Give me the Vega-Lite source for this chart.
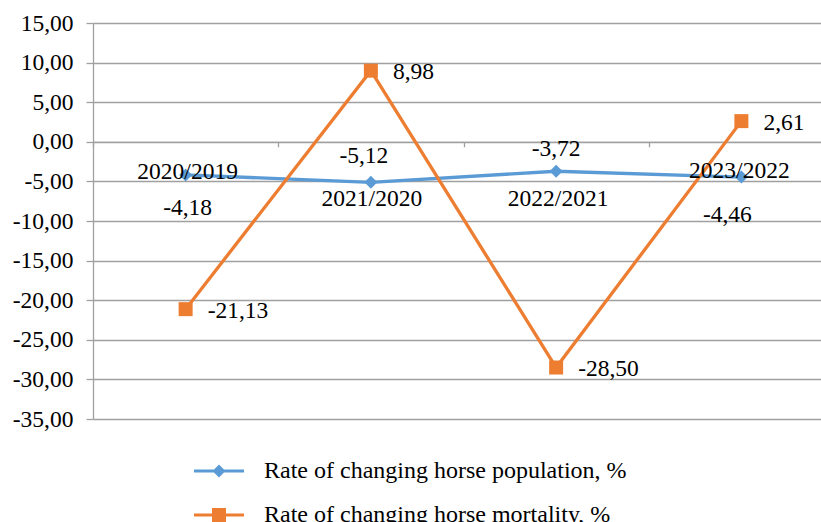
{
  "$schema": "https://vega.github.io/schema/vega-lite/v6.json",
  "width": 728,
  "height": 396,
  "padding": {"left": 93, "top": 23, "right": 0, "bottom": 103},
  "autosize": {"type": "none"},
  "background": "white",
  "config": {"font": "Times New Roman", "view": {"stroke": null}},
  "data": {"values": [
    {"period": "2020/2019", "series": "Rate of changing horse population, %", "value": -4.18},
    {"period": "2021/2020", "series": "Rate of changing horse population, %", "value": -5.12},
    {"period": "2022/2021", "series": "Rate of changing horse population, %", "value": -3.72},
    {"period": "2023/2022", "series": "Rate of changing horse population, %", "value": -4.46},
    {"period": "2020/2019", "series": "Rate of changing horse mortality, %", "value": -21.13},
    {"period": "2021/2020", "series": "Rate of changing horse mortality, %", "value": 8.98},
    {"period": "2022/2021", "series": "Rate of changing horse mortality, %", "value": -28.50},
    {"period": "2023/2022", "series": "Rate of changing horse mortality, %", "value": 2.61}
  ]},
  "transform": [
    {"calculate": "(datum.value < 0 ? '-' : '') + replace(format(abs(datum.value), '.2f'), '.', ',')", "as": "label"}
  ],
  "encoding": {
    "x": {
      "field": "period", "type": "nominal", "sort": null,
      "scale": {"type": "band", "range": [0, 741], "paddingInner": 0, "paddingOuter": 0},
      "axis": {"orient": "bottom", "offset": -277.2, "labels": false, "title": null, "tickBand": "extent", "ticks": true, "tickSize": 5, "tickColor": "#A0A0A0", "tickWidth": 1.3, "domainColor": "#A0A0A0", "domainWidth": 1.3, "grid": false}
    },
    "y": {
      "field": "value", "type": "quantitative",
      "scale": {"domain": [-35, 15], "nice": false, "zero": false},
      "axis": {"values": [-35, -30, -25, -20, -15, -10, -5, 0, 5, 10, 15], "labelExpr": "(datum.value < 0 ? '-' : '') + replace(format(abs(datum.value), '.2f'), '.', ',')", "title": null, "grid": true, "gridColor": "#A0A0A0", "gridWidth": 1.3, "domainColor": "#A0A0A0", "domainWidth": 1.3, "tickColor": "#A0A0A0", "tickWidth": 1.3, "tickSize": 7, "labelPadding": 13, "labelFontSize": 23.5, "labelColor": "black", "labelFont": "Times New Roman"}
    }
  },
  "layer": [
    {
      "mark": {"type": "line", "strokeWidth": 3.3},
      "encoding": {
        "color": {
          "field": "series", "type": "nominal",
          "scale": {"domain": ["Rate of changing horse population, %", "Rate of changing horse mortality, %"], "range": ["#5B9BD5", "#ED7D31"]},
          "legend": {
            "orient": "none", "legendX": 114, "legendY": 436, "direction": "vertical", "title": null,
            "labelFontSize": 24, "labelFont": "Times New Roman", "labelColor": "black", "labelLimit": 0,
            "symbolSize": 400, "labelOffset": 33, "rowPadding": 20, "padding": 0,
            "encode": {"symbols": {"update": {
              "shape": {"signal": "datum.value === 'Rate of changing horse population, %' ? 'M-2.5,-0.15H2.5V0.15H-2.5Z M0,-0.65L0.65,0L0,0.65L-0.65,0Z' : 'M-2.5,-0.15H2.5V0.15H-2.5Z M-0.7,-0.7H0.7V0.7H-0.7Z'"},
              "fill": {"scale": "color", "field": "value"},
              "stroke": {"value": "transparent"},
              "strokeWidth": {"value": 0},
              "opacity": {"value": 1},
              "fillOpacity": {"value": 1}
            }}}
          }
        }
      }
    },
    {
      "transform": [{"filter": "datum.series === 'Rate of changing horse population, %'"}],
      "mark": {"type": "point", "shape": "diamond", "filled": true, "opacity": 1, "size": 169, "color": "#5B9BD5"},
      "encoding": {}
    },
    {
      "transform": [{"filter": "datum.series === 'Rate of changing horse mortality, %'"}],
      "mark": {"type": "point", "shape": "square", "filled": true, "opacity": 1, "size": 196, "color": "#ED7D31"},
      "encoding": {}
    },
    {
      "transform": [{"filter": "datum.series === 'Rate of changing horse mortality, %'"}],
      "mark": {"type": "text", "align": "left", "baseline": "middle", "dx": 22, "dy": 1.5, "fontSize": 23.5, "color": "black"},
      "encoding": {"text": {"field": "label"}}
    },
    {
      "transform": [{"filter": "datum.series === 'Rate of changing horse population, %' && datum.period === '2020/2019'"}],
      "mark": {"type": "text", "baseline": "middle", "dx": 2, "dy": -3, "fontSize": 23.5, "color": "black"},
      "encoding": {"text": {"field": "period"}}
    },
    {
      "transform": [{"filter": "datum.series === 'Rate of changing horse population, %' && datum.period === '2021/2020'"}],
      "mark": {"type": "text", "baseline": "middle", "dx": 1, "dy": 17, "fontSize": 23.5, "color": "black"},
      "encoding": {"text": {"field": "period"}}
    },
    {
      "transform": [{"filter": "datum.series === 'Rate of changing horse population, %' && datum.period === '2022/2021'"}],
      "mark": {"type": "text", "baseline": "middle", "dx": 2, "dy": 28, "fontSize": 23.5, "color": "black"},
      "encoding": {"text": {"field": "period"}}
    },
    {
      "transform": [{"filter": "datum.series === 'Rate of changing horse population, %' && datum.period === '2023/2022'"}],
      "mark": {"type": "text", "baseline": "middle", "dx": -2, "dy": -6, "fontSize": 23.5, "color": "black"},
      "encoding": {"text": {"field": "period"}}
    },
    {
      "transform": [{"filter": "datum.series === 'Rate of changing horse population, %' && datum.period === '2020/2019'"}],
      "mark": {"type": "text", "baseline": "middle", "dx": 2, "dy": 33, "fontSize": 23.5, "color": "black"},
      "encoding": {"text": {"field": "label"}}
    },
    {
      "transform": [{"filter": "datum.series === 'Rate of changing horse population, %' && datum.period === '2021/2020'"}],
      "mark": {"type": "text", "baseline": "middle", "dx": -7, "dy": -26, "fontSize": 23.5, "color": "black"},
      "encoding": {"text": {"field": "label"}}
    },
    {
      "transform": [{"filter": "datum.series === 'Rate of changing horse population, %' && datum.period === '2022/2021'"}],
      "mark": {"type": "text", "baseline": "middle", "dx": 0, "dy": -22, "fontSize": 23.5, "color": "black"},
      "encoding": {"text": {"field": "label"}}
    },
    {
      "transform": [{"filter": "datum.series === 'Rate of changing horse population, %' && datum.period === '2023/2022'"}],
      "mark": {"type": "text", "baseline": "middle", "dx": -14, "dy": 38, "fontSize": 23.5, "color": "black"},
      "encoding": {"text": {"field": "label"}}
    }
  ]
}
